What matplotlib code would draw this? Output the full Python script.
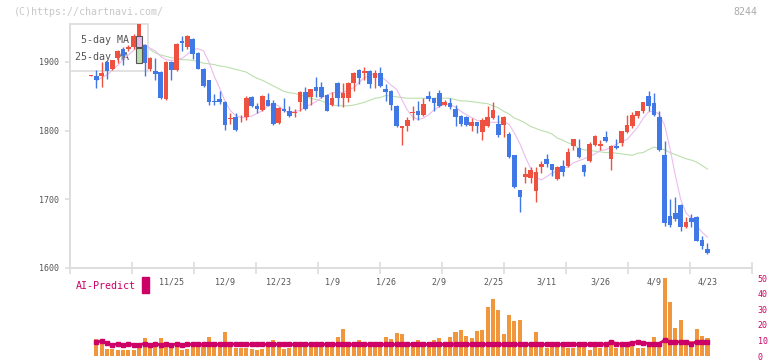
import numpy as np
import matplotlib
matplotlib.use("Agg")
import matplotlib.pyplot as plt
from matplotlib.patches import Rectangle

# ============================
# 1. DATOS
# ============================
apertura = [1880, 1880, 1880, 1900, 1890, 1905, 1918, 1918, 1921, 1925,
            1925, 1889, 1886, 1885, 1846, 1900, 1888, 1930, 1921, 1933,
            1913, 1890, 1873, 1843, 1846, 1842, 1817, 1819, 1815, 1820,
            1849, 1836, 1830, 1844, 1840, 1811, 1832, 1829, 1826, 1842,
            1856, 1849, 1863, 1863, 1852, 1837, 1869, 1847, 1847, 1869,
            1888, 1883, 1887, 1876, 1884, 1860, 1858, 1836, 1803, 1806,
            1825, 1829, 1823, 1850, 1847, 1855, 1837, 1840, 1831, 1821,
            1820, 1806, 1812, 1798, 1806, 1818, 1809, 1808, 1795, 1764,
            1713, 1733, 1731, 1712, 1747, 1759, 1751, 1729, 1748, 1749,
            1777, 1774, 1750, 1755, 1779, 1777, 1791, 1759, 1778, 1782,
            1798, 1806, 1821, 1828, 1850, 1840, 1819, 1765, 1676, 1680,
            1692, 1659, 1673, 1674, 1641, 1628]
maximo = [1881, 1888, 1900, 1901, 1903, 1917, 1922, 1924, 1940, 1970,
          1926, 1907, 1905, 1886, 1901, 1901, 1927, 1937, 1939, 1934,
          1914, 1891, 1874, 1853, 1857, 1843, 1825, 1825, 1822, 1850,
          1850, 1840, 1851, 1855, 1845, 1834, 1847, 1836, 1831, 1857,
          1863, 1861, 1878, 1870, 1853, 1856, 1870, 1869, 1870, 1885,
          1890, 1893, 1888, 1888, 1893, 1868, 1859, 1837, 1807, 1820,
          1836, 1843, 1847, 1857, 1848, 1859, 1845, 1847, 1837, 1822,
          1821, 1818, 1813, 1818, 1836, 1841, 1823, 1821, 1798, 1765,
          1714, 1747, 1747, 1747, 1755, 1766, 1752, 1748, 1757, 1774,
          1788, 1788, 1751, 1784, 1793, 1786, 1799, 1779, 1787, 1800,
          1823, 1827, 1829, 1842, 1858, 1854, 1828, 1785, 1700, 1703,
          1693, 1674, 1678, 1675, 1647, 1637]
minimo = [1879, 1862, 1864, 1875, 1888, 1898, 1895, 1915, 1919, 1918,
          1880, 1887, 1874, 1846, 1845, 1873, 1887, 1915, 1919, 1904,
          1889, 1864, 1837, 1837, 1839, 1801, 1810, 1800, 1813, 1816,
          1834, 1825, 1828, 1835, 1808, 1810, 1827, 1820, 1819, 1828,
          1830, 1837, 1849, 1848, 1828, 1836, 1836, 1834, 1842, 1858,
          1868, 1873, 1862, 1862, 1864, 1843, 1830, 1805, 1779, 1799,
          1816, 1815, 1821, 1843, 1829, 1834, 1836, 1832, 1807, 1806,
          1806, 1800, 1797, 1786, 1805, 1817, 1791, 1791, 1760, 1717,
          1682, 1723, 1723, 1696, 1738, 1747, 1734, 1728, 1734, 1747,
          1771, 1760, 1734, 1754, 1778, 1771, 1784, 1742, 1773, 1777,
          1797, 1804, 1818, 1825, 1828, 1821, 1770, 1661, 1659, 1669,
          1654, 1658, 1660, 1639, 1627, 1621]
cierre = [1880.5, 1874, 1884, 1886, 1902, 1916, 1909, 1921, 1938, 1962,
          1898, 1906, 1882, 1847, 1900, 1888, 1926, 1927, 1938, 1912,
          1890, 1865, 1842, 1841, 1841, 1808, 1818, 1801, 1816, 1847,
          1836, 1831, 1850, 1836, 1809, 1833, 1828, 1821, 1827, 1856,
          1831, 1860, 1858, 1849, 1829, 1847, 1847, 1855, 1869, 1884,
          1877, 1887, 1868, 1884, 1865, 1856, 1837, 1806, 1806, 1815,
          1827, 1823, 1839, 1846, 1840, 1835, 1842, 1834, 1820, 1810,
          1808, 1813, 1806, 1815, 1820, 1830, 1794, 1820, 1761, 1718,
          1703, 1737, 1743, 1739, 1751, 1751, 1742, 1747, 1740, 1769,
          1787, 1761, 1739, 1780, 1792, 1781, 1785, 1778, 1775, 1799,
          1808, 1823, 1828, 1841, 1835, 1822, 1771, 1665, 1663, 1671,
          1659, 1667, 1667, 1640, 1632, 1622]

media_5 = [np.nan, 1872, 1877, 1881, 1888, 1895, 1903, 1910, 1917, 1924,
           1925, 1920, 1916, 1908, 1903, 1902, 1903, 1905, 1911, 1918,
           1919, 1916, 1900, 1879, 1862, 1843, 1829, 1822, 1819, 1819,
           1821, 1825, 1829, 1836, 1839, 1836, 1830, 1825, 1828, 1829,
           1834, 1838, 1842, 1848, 1851, 1855, 1856, 1855, 1860, 1862,
           1870, 1877, 1880, 1883, 1879, 1873, 1866, 1860, 1845, 1830,
           1820, 1816, 1818, 1823, 1830, 1835, 1838, 1838, 1834, 1828,
           1823, 1819, 1815, 1813, 1812, 1812, 1812, 1813, 1809, 1796,
           1781, 1762, 1745, 1732, 1728, 1733, 1738, 1742, 1745, 1747,
           1753, 1756, 1759, 1762, 1766, 1771, 1772, 1776, 1780, 1784,
           1787, 1796, 1805, 1818, 1827, 1828, 1824, 1808, 1774, 1735,
           1700, 1680, 1672, 1661, 1652, 1645]
media_25 = [np.nan] * 11 + [
    1918, 1913, 1910, 1908, 1906, 1905, 1903, 1903, 1902,
    1900, 1898, 1897, 1896, 1894, 1893, 1891, 1889, 1887, 1885,
    1880, 1876, 1873, 1869, 1865, 1861, 1857, 1855, 1854, 1852,
    1849, 1847, 1845, 1843, 1840, 1837, 1836, 1836, 1836, 1837,
    1839, 1841, 1844, 1847, 1848, 1851, 1850, 1849, 1848, 1847,
    1847, 1847, 1847, 1847, 1847, 1847, 1847, 1847, 1845, 1843,
    1843, 1842, 1841, 1840, 1839, 1836, 1833, 1828, 1824, 1818,
    1815, 1811, 1806, 1803, 1800, 1798, 1795, 1789, 1786, 1782,
    1779, 1774, 1772, 1771, 1770, 1769, 1768, 1768, 1767, 1766,
    1765, 1764, 1767, 1768, 1772, 1776, 1774, 1772, 1768, 1765,
    1762, 1759, 1757, 1754, 1749, 1744]

volumen = [np.nan, 10.7, 8.8, 4.6, 4.6, 3.8, 3.8, 3.8, 3.8, 7.5,
           11.3, 7.5, 7.5, 11.3, 8.2, 5.0, 7.5, 4.0, 4.6, 7.5,
           7.5, 7.5, 11.9, 7.5, 7.5, 15.1, 7.5, 5.4, 5.0, 5.4,
           4.6, 4.0, 4.6, 7.5, 10.1, 7.5, 4.6, 5.0, 7.5, 7.5,
           5.6, 7.5, 7.5, 7.5, 7.5, 7.5, 11.9, 17.6, 8.8, 7.5,
           10.1, 7.5, 7.5, 5.6, 8.8, 11.9, 10.7, 14.5, 13.8, 7.5,
           7.5, 10.1, 7.5, 8.8, 10.1, 11.3, 7.5, 11.9, 15.1, 16.6,
           12.8, 11.3, 15.9, 16.6, 31.2, 36.5, 29.6, 13.8, 26.4, 22.2,
           22.9, 8.8, 7.5, 15.7, 6.1, 5.4, 6.7, 6.7, 6.7, 5.4,
           5.0, 6.7, 6.7, 4.0, 8.8, 5.0, 8.8, 10.3, 5.4, 6.7,
           6.7, 7.5, 5.4, 5.0, 6.7, 11.9, 6.7, 49.7, 34.8, 18.2,
           23.3, 7.5, 9.6, 17.0, 12.8, 11.3]
ai_predict = [np.nan, 8.8, 9.6, 8.2, 7.1, 7.8, 7.1, 7.8, 7.1, 7.1,
              8.0, 7.1, 7.8, 7.1, 7.8, 7.1, 7.8, 7.1, 7.4, 7.4,
              7.4, 7.4, 7.4, 7.4, 7.4, 7.4, 8.0, 7.4, 7.4, 7.4,
              7.4, 7.4, 7.4, 7.4, 7.4, 7.4, 7.4, 7.4, 7.4, 7.4,
              7.4, 7.4, 7.4, 7.4, 7.4, 7.4, 7.4, 7.4, 7.4, 7.4,
              7.4, 7.4, 7.4, 7.4, 7.4, 7.4, 7.4, 7.4, 7.4, 7.4,
              7.4, 7.4, 7.4, 7.4, 7.4, 7.4, 7.4, 7.4, 7.4, 7.4,
              7.4, 7.4, 7.4, 7.4, 7.4, 7.4, 7.4, 7.4, 7.4, 7.4,
              7.4, 7.4, 7.4, 7.4, 7.4, 7.4, 7.4, 7.4, 7.4, 7.4,
              7.4, 7.4, 7.4, 7.4, 7.4, 7.4, 7.6, 8.8, 8.0, 7.5,
              8.0, 8.4, 9.2, 8.4, 8.0, 8.0, 8.0, 10.1, 9.2, 8.8,
              9.2, 8.8, 8.0, 9.2, 8.8, 9.2]

fechas_pos = [15, 25, 35, 45, 55, 65, 75, 85, 95, 105, 115]
fechas_txt = ["11/25", "12/9", "12/23", "1/9", "1/26", "2/9",
              "2/25", "3/11", "3/26", "4/9", "4/23"]

# ============================
# 2. ESTILO
# ============================
ROJO = "#ef5140"
AZUL = "#4079e6"
NARANJA = "#f0963c"
MAGENTA = "#cc0066"
ROSA = "#ebbcee"
VERDE = "#bcdfae"
GRIS_EJE = "#dddddd"
GRIS_TXT = "#555555"

plt.rcParams["font.family"] = ["DejaVu Sans Mono"]

W, H = 772, 361
def fx(px):
    return px / W

def fy(py):
    return 1 - py / H

X0, X1 = -3.9, 123.3

fig = plt.figure(figsize=(W / 100, H / 100), dpi=100)

# ============================
# 3. VELAS + MEDIAS
# ============================
ax = fig.add_axes([fx(70), fy(268), (752 - 70) / W, (268 - 24) / H])
x = np.arange(len(cierre))
o = np.array(apertura, dtype=float)
c = np.array(cierre, dtype=float)
colores = np.where(c >= o, ROJO, AZUL)

ax.plot(x, media_25, color=VERDE, lw=0.8, zorder=2)
ax.plot(x, media_5, color=ROSA, lw=0.8, zorder=2)
ax.vlines(x, minimo, maximo, colors=colores, linewidth=1.0, zorder=3)
alto = np.maximum(np.abs(c - o), 0.9)
ax.bar(x, alto, bottom=np.minimum(o, c), width=0.86, color=colores, zorder=4)

ax.set_xlim(X0, X1)
ax.set_ylim(1600, 1955)
ax.set_yticks([1600, 1700, 1800, 1900])
ax.set_xticks(np.linspace(X0, X1, 12))
ax.tick_params(axis="x", direction="inout", length=9, width=1.2,
               color=GRIS_EJE, labelbottom=False)
ax.tick_params(axis="y", length=3.6, width=1.2, color=GRIS_EJE,
               labelsize=6, labelcolor=GRIS_TXT, pad=4)
for s in ["top", "right"]:
    ax.spines[s].set_visible(False)
for s in ["left", "bottom"]:
    ax.spines[s].set_color(GRIS_EJE)
    ax.spines[s].set_linewidth(1.4)

for p, t in zip(fechas_pos, fechas_txt):
    ax.text(p, -0.057, t, transform=ax.get_xaxis_transform(), ha="center",
            va="center", fontsize=6, color=GRIS_TXT)

# leyenda (queda por debajo de las velas, como en el original)
ax.add_patch(Rectangle((fx(70), fy(71)), (148 - 70) / W, (71 - 24) / H,
                       transform=fig.transFigure, fill=False,
                       edgecolor=GRIS_EJE, lw=1.2, clip_on=False, zorder=1))
ax.text(fx(129), fy(40), "5-day MA", transform=fig.transFigure, ha="right",
        va="center", fontsize=7.2, color=GRIS_TXT, zorder=1)
ax.text(fx(129), fy(57), "25-day MA", transform=fig.transFigure, ha="right",
        va="center", fontsize=7.2, color=GRIS_TXT, zorder=1)
ax.add_patch(Rectangle((fx(136), fy(47)), 6 / W, 11 / H, transform=fig.transFigure,
                       facecolor=ROSA, edgecolor="#555555", lw=0.8,
                       clip_on=False, zorder=6))
ax.add_patch(Rectangle((fx(136), fy(63)), 6 / W, 15 / H, transform=fig.transFigure,
                       facecolor=VERDE, edgecolor="#555555", lw=0.8,
                       clip_on=False, zorder=6))

# ============================
# 4. VOLUMEN + AI-Predict
# ============================
ax2 = fig.add_axes([fx(70), fy(356), (752 - 70) / W, (356 - 278) / H])
ax2.patch.set_alpha(0)
ax2.bar(x, volumen, width=0.75, color=NARANJA, zorder=2)
ax2.plot(x, ai_predict, color=MAGENTA, lw=2, marker="s", ms=2.4, zorder=3)
ax2.set_xlim(X0, X1)
ax2.set_ylim(0, 50)
ax2.set_xticks([])
ax2.yaxis.tick_right()
ax2.set_yticks(range(0, 51, 10))
ax2.tick_params(axis="y", length=0, labelsize=6, labelcolor=MAGENTA, pad=4)
for s in ax2.spines.values():
    s.set_visible(False)

fig.text(fx(76), fy(286), "AI-Predict", ha="left", va="center",
         fontsize=7.2, color=MAGENTA)
fig.patches.append(Rectangle((fx(142), fy(293)), 7 / W, 16 / H,
                             transform=fig.transFigure, color=MAGENTA))

# textos de cabecera
fig.text(fx(14), fy(12), "(C)https://chartnavi.com/", ha="left", va="center",
         fontsize=7.2, color="#c8c8c8")
fig.text(fx(757), fy(12), "8244", ha="right", va="center",
         fontsize=7.2, color="#aaaaaa")

fig.savefig("out.png", dpi=100)
